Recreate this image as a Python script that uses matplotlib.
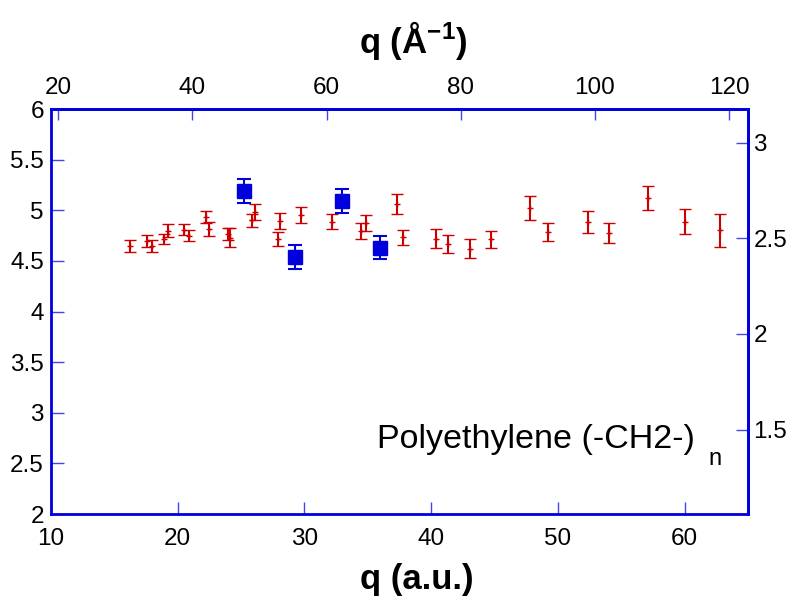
import matplotlib
matplotlib.use("Agg")
import matplotlib.pyplot as plt

plt.rcParams['font.family'] = ['Liberation Sans', 'DejaVu Sans']
plt.rcParams['mathtext.fontset'] = 'custom'
plt.rcParams['mathtext.rm'] = 'Liberation Sans'
plt.rcParams['mathtext.bf'] = 'Liberation Sans:bold'

# Red series: q (a.u.), value, error
red_q = [16.27, 17.59, 17.95, 18.93, 19.27, 20.48, 20.88, 22.22, 22.49, 24.0, 24.1,
         25.88, 26.09, 27.94, 28.04, 29.72, 32.15, 34.46, 34.89, 37.31, 37.78, 40.42,
         41.31, 43.07, 44.76, 47.81, 49.21, 52.37, 54.05, 57.08, 60.06, 62.82]
red_v = [4.647, 4.696, 4.644, 4.716, 4.80, 4.81, 4.75, 4.93, 4.815, 4.765, 4.73,
         4.90, 4.98, 4.713, 4.894, 4.956, 4.887, 4.795, 4.877, 5.06, 4.733, 4.72,
         4.67, 4.62, 4.713, 5.025, 4.785, 4.887, 4.775, 5.124, 4.887, 4.805]
red_e = [0.059, 0.059, 0.060, 0.054, 0.060, 0.056, 0.054, 0.060, 0.067, 0.058, 0.094,
         0.066, 0.077, 0.070, 0.076, 0.080, 0.076, 0.080, 0.080, 0.096, 0.076, 0.094,
         0.089, 0.095, 0.085, 0.117, 0.090, 0.107, 0.097, 0.117, 0.126, 0.163]

# Blue series
blue_q = [25.25, 29.28, 32.99, 35.94]
blue_v = [5.193, 4.54, 5.094, 4.63]
blue_e = [0.12, 0.12, 0.12, 0.115]

AU = 1.8897  # q(Å^-1) per q(a.u.)

fig = plt.figure(figsize=(7.96, 5.97), dpi=100)
ax = fig.add_axes([0.064, 0.139, 0.8756, 0.6784])

ax.errorbar(red_q, red_v, yerr=red_e, fmt='+', color='#cc0000', ms=4, mew=1,
            elinewidth=1.5, capsize=4, capthick=1.5, zorder=2)
ax.errorbar(blue_q, blue_v, yerr=blue_e, fmt='s', color='#0000dd', ms=10,
            elinewidth=1.5, capsize=5, capthick=1.5, zorder=3)

ax.set_xlim(10, 65)
ax.set_ylim(2, 6)
ax.set_xticks([10, 20, 30, 40, 50, 60])
ax.set_yticks([2, 2.5, 3, 3.5, 4, 4.5, 5, 5.5, 6])
ax.set_yticklabels(['2', '2.5', '3', '3.5', '4', '4.5', '5', '5.5', '6'])

spine_col = '#0000dd'
for s in ax.spines.values():
    s.set_color(spine_col)
    s.set_linewidth(2)

ax.tick_params(axis='both', direction='in', length=9, width=1, color='#4444ee',
               labelsize=17.5, labelcolor='black')
ax.tick_params(axis='x', pad=10)
ax.tick_params(axis='y', pad=5)

ax.set_xlabel('q (a.u.)', fontsize=25, fontweight='bold')
ax.xaxis.set_label_coords(0.525, -0.12)

secx = ax.secondary_xaxis('top', functions=(lambda x: x * AU, lambda x: x / AU))
secx.set_xticks([20, 40, 60, 80, 100, 120])
secx.tick_params(direction='in', length=8, width=1, color='#4444ee',
                 labelsize=17.5, pad=7)
secx.spines['top'].set_color(spine_col)
secx.spines['top'].set_linewidth(2)

fig.text(413 / 796, 1 - 40 / 597, r'q (Å$\mathregular{^{-1}}$)', fontsize=25,
         fontweight='bold', ha='center', va='center')

secy = ax.secondary_yaxis('right', functions=(lambda y: y / AU, lambda y: y * AU))
secy.set_yticks([1.5, 2, 2.5, 3])
secy.set_yticklabels(['1.5', '2', '2.5', '3'])
secy.tick_params(direction='in', length=9, width=1, color='#4444ee',
                 labelsize=17.5, pad=4)
secy.spines['right'].set_color(spine_col)
secy.spines['right'].set_linewidth(2)

ax.text(0.468, 0.162, 'Polyethylene (-CH2-)', transform=ax.transAxes,
        fontsize=24.5, ha='left', va='baseline')
ax.text(0.943, 0.12, 'n', transform=ax.transAxes, fontsize=17,
        ha='left', va='baseline')

fig.savefig('out.png', dpi=100)
